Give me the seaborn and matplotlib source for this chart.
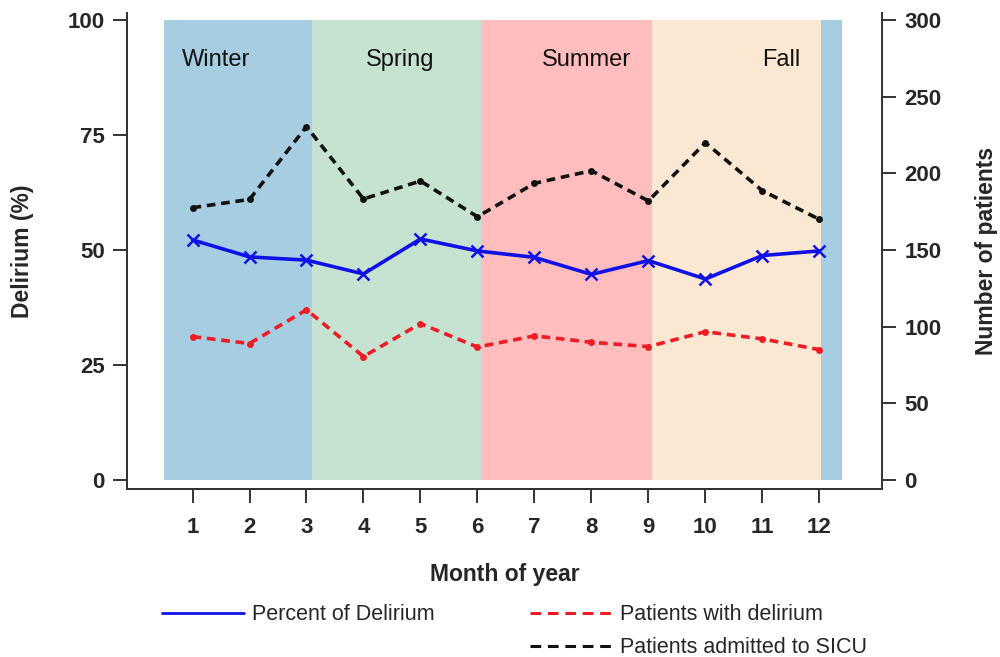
import numpy as np
import pandas as pd
import seaborn as sns
import matplotlib.pyplot as plt
from matplotlib.lines import Line2D

months = list(range(1, 13))
pct_delirium = [52.2, 48.5, 47.8, 44.8, 52.4, 49.8, 48.4, 44.7, 47.7, 43.7, 48.8, 49.8]
pts_delirium = [93.5, 89, 111, 80.5, 102, 86.7, 94, 89.8, 87, 96.7, 92, 85]
pts_admitted = [177.6, 183, 230.5, 183.3, 195, 171.7, 193.5, 201.7, 182, 220, 188.7, 170]

seasons = ["Winter", "Spring", "Summer", "Fall", ""]
season_edges = [0.5, 3.1, 6.06, 9.06, 12.03, 12.4]
season_colors = ["#a6cde2", "#c6e2d0", "#ffbdbd", "#fbe8d2", "#a6cde2"]
season_label_x = [0.82, 4.65, 7.92, 11.34]
season_label_ha = ["left", "center", "center", "center"]

df = pd.DataFrame({"month": months, "pct": pct_delirium,
                   "delirium": pts_delirium, "admitted": pts_admitted})

sns.set_style("ticks")
plt.rcParams["font.family"] = ["Liberation Sans", "DejaVu Sans"]

fig = plt.figure(figsize=(10, 6.57), dpi=100)
ax = fig.add_axes([0.127, 0.2557, 0.755, 0.7243])
ax2 = ax.twinx()

blue = "#1010e8"
red = "#ee1c25"
black = "#111111"
dash = (0, (2.4, 1.6))

# season bands
for i in range(len(season_colors)):
    ax.fill_betweenx([0, 100], season_edges[i], season_edges[i + 1],
                     color=season_colors[i], linewidth=0, zorder=0)
for name, x, ha in zip(seasons[:4], season_label_x, season_label_ha):
    ax.text(x, 91.3, name, ha=ha, va="center", fontsize=17, color="#111111")

sns.lineplot(data=df, x="month", y="pct", ax=ax, color=blue, linewidth=2.6,
             marker="x", markersize=8, markeredgewidth=1.8, markeredgecolor=blue)
sns.lineplot(data=df, x="month", y="delirium", ax=ax2, color=red, linewidth=2.6,
             linestyle=dash, marker="o", markersize=5, markeredgewidth=0)
sns.lineplot(data=df, x="month", y="admitted", ax=ax2, color=black, linewidth=2.6,
             linestyle=dash, marker="o", markersize=5, markeredgewidth=0)

ax.set_xlim(-0.15, 13.1)
ax.set_ylim(-1.96, 101.5)
ax2.set_ylim(-5.9, 304.5)
ax.set_xticks(months)
ax.set_yticks([0, 25, 50, 75, 100])
ax2.set_yticks([0, 50, 100, 150, 200, 250, 300])

for a in (ax, ax2):
    for s in a.spines.values():
        s.set_linewidth(1.4)
        s.set_color("#333333")
    a.tick_params(length=10, width=1.4, color="#333333", labelsize=16, pad=6)
    for lab in a.get_xticklabels() + a.get_yticklabels():
        lab.set_fontweight("bold")
ax.tick_params(axis="x", pad=10)
ax.spines["top"].set_visible(False)
ax2.spines["top"].set_visible(False)
ax.spines["right"].set_visible(False)

ax.set_xlabel("Month of year", fontsize=16.5, fontweight="bold", labelpad=18)
ax.set_ylabel("Delirium (%)", fontsize=16.5, fontweight="bold", labelpad=24)
ax2.set_ylabel("Number of patients", fontsize=16.5, fontweight="bold", labelpad=24)

handles = [
    Line2D([], [], color=blue, linewidth=2),
    Line2D([], [], color="none"),
    Line2D([], [], color=red, linewidth=2.2, linestyle=(0, (3.5, 2.2))),
    Line2D([], [], color=black, linewidth=2.2, linestyle=(0, (3.5, 2.2))),
]
labels = ["Percent of Delirium", "", "Patients with delirium", "Patients admitted to SICU"]
fig.legend(handles, labels, loc="upper left", bbox_to_anchor=(0.162, 0.08), ncol=2,
           frameon=False, fontsize=15.5, handlelength=3.8, handletextpad=0.4,
           columnspacing=4.4, labelspacing=0.55, borderpad=0, borderaxespad=0)

fig.savefig("out.png", dpi=100)
